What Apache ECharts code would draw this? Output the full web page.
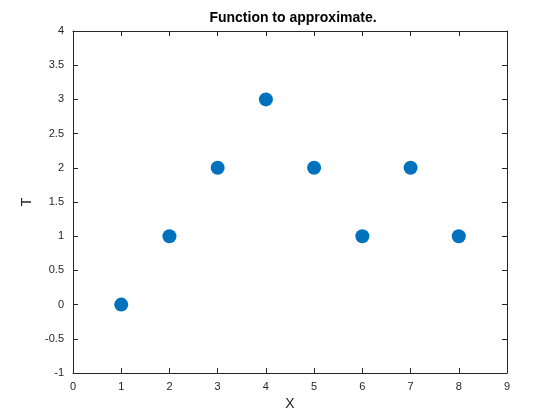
<!DOCTYPE html>
<html><head><meta charset="utf-8">
<script src="https://cdn.jsdelivr.net/npm/echarts@6/dist/echarts.min.js"></script>
<style>html,body{margin:0;padding:0;background:#fff}#c{width:560px;height:420px}</style>
</head><body><div id="c"></div>
<script>
const xValues = [1, 2, 3, 4, 5, 6, 7, 8];
const tValues = [0, 1, 2, 3, 2, 1, 2, 1];
const titleText = 'Function to approximate.';
const xLabel = 'X';
const yLabel = 'T';

const ink = '#262626';
const font = 'Liberation Sans, Arial, sans-serif';
const chart = echarts.init(document.getElementById('c'), null, {renderer: 'canvas'});
const axBase = {
  axisLine: {show: true, onZero: false, lineStyle: {color: ink, width: 1}},
  axisTick: {show: true, inside: true, length: 5, lineStyle: {color: ink}},
  splitLine: {show: false},
  axisLabel: {color: ink, fontFamily: font, fontSize: 11}
};
chart.setOption({
  animation: false,
  title: {text: titleText, left: 288, top: 6, textAlign: 'center',
    textStyle: {fontFamily: font, fontSize: 14, fontWeight: 'bold', color: '#000'}},
  grid: {left: 73, right: 53, top: 31, bottom: 47, containLabel: false},
  xAxis: [
    Object.assign({}, axBase, {type: 'value', position: 'bottom', min: 0, max: 9, interval: 1,
      name: xLabel, nameLocation: 'middle', nameGap: 23,
      nameTextStyle: {fontFamily: font, fontSize: 14, color: ink},
      axisLabel: {color: ink, fontFamily: font, fontSize: 11, margin: 8}}),
    Object.assign({}, axBase, {type: 'value', position: 'top', min: 0, max: 9, interval: 1,
      axisLabel: {show: false}})
  ],
  yAxis: [
    Object.assign({}, axBase, {type: 'value', position: 'left', min: -1, max: 4, interval: 0.5,
      name: yLabel, nameLocation: 'middle', nameGap: 36,
      nameTextStyle: {fontFamily: font, fontSize: 14, color: ink},
      axisLabel: {color: ink, fontFamily: font, fontSize: 11, margin: 9}}),
    Object.assign({}, axBase, {type: 'value', position: 'right', min: -1, max: 4, interval: 0.5,
      axisLabel: {show: false}})
  ],
  series: [{
    type: 'scatter', xAxisIndex: 0, yAxisIndex: 0,
    data: xValues.map((x, i) => [x, tValues[i]]),
    symbol: 'circle', symbolSize: 14,
    itemStyle: {color: '#0072BD', opacity: 1}
  }]
});
</script>
</body></html>
